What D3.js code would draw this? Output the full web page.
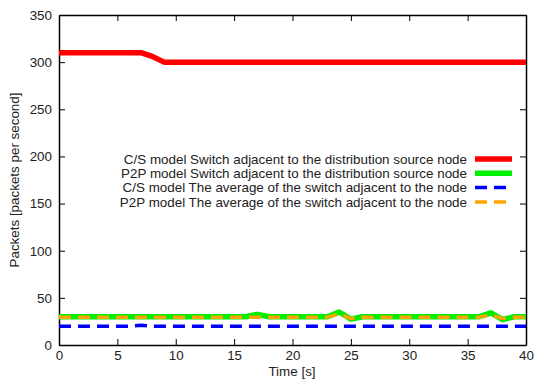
<!DOCTYPE html>
<html>
<head>
<meta charset="utf-8">
<script src="https://cdn.jsdelivr.net/npm/d3@7"></script>
<style>
  body { margin: 0; background: #fff; }
  text { font-family: "Liberation Sans", Arial, sans-serif; fill: #222; }
</style>
</head>
<body>
<div id="chart"></div>
<script>
const time = d3.range(0, 41);
const csSource = [310,310,310,310,310,310,310,310,306,300,300,300,300,300,300,300,300,300,300,300,300,300,300,300,300,300,300,300,300,300,300,300,300,300,300,300,300,300,300,300,300];
const p2pSource = [30,30,30,30,30,30,30,30,30,30,30,30,30,30,30,30,30,32.5,30,30,30,30,30,30,35,27.5,30,30,30,30,30,30,30,30,30,30,30,34,27,30,30];
const csAvg = [20,20,20,20,20,20,20,21,20,20,20,20,20,20,20,20,20,20,20,20,20,20,20,20,20,20,20,20,20,20,20,20,20,20,20,20,20,20,20,20,20];
const p2pAvg = [29.5,29.5,29.5,29.5,29.5,29.5,29.5,29.5,29.5,29.5,29.5,29.5,29.5,29.5,29.5,29.5,29.5,29.5,29.5,29.5,29.5,29.5,29.5,29.5,33,28,29.5,29.5,29.5,29.5,29.5,29.5,29.5,29.5,29.5,29.5,29.5,32,28,29.5,29.5];
const seriesNames = [
  "C/S model Switch adjacent to the distribution source node",
  "P2P model Switch adjacent to the distribution source node",
  "C/S model The average of the switch adjacent to the node",
  "P2P model The average of the switch adjacent to the node"
];
const xTicks = [0,5,10,15,20,25,30,35,40];
const yTicks = [0,50,100,150,200,250,300,350];

const w = 535, h = 379;
const padL = 59, padR = 526, padT = 15, padB = 345;

const svg = d3.select('#chart').append('svg')
  .attr('width', w).attr('height', h);

const x = d3.scaleLinear().domain([0, 40]).range([padL, padR]);
const y = d3.scaleLinear().domain([0, 350]).range([padB, padT]);

// axes with inward ticks on all sides
svg.append('g').attr('transform', `translate(0,${padB})`)
  .call(d3.axisBottom(x).tickValues(xTicks).tickSizeInner(-6).tickSizeOuter(0).tickPadding(5));
svg.append('g').attr('transform', `translate(0,${padT})`)
  .call(d3.axisTop(x).tickValues(xTicks).tickSizeInner(-6).tickSizeOuter(0).tickFormat(''));
svg.append('g').attr('transform', `translate(${padL},0)`)
  .call(d3.axisLeft(y).tickValues(yTicks).tickSizeInner(-6).tickSizeOuter(0).tickPadding(7));
svg.append('g').attr('transform', `translate(${padR},0)`)
  .call(d3.axisRight(y).tickValues(yTicks).tickSizeInner(-6).tickSizeOuter(0).tickFormat(''));

svg.selectAll('.domain').attr('stroke', '#000').attr('stroke-width', 1.5);
svg.selectAll('.tick line').attr('stroke', '#000');
svg.selectAll('.tick text').style('font-size', '13.4px').attr('fill', '#222');

const styles = [
  { data: csSource, color: '#ff0000', width: 5.5, dash: null },
  { data: p2pSource, color: '#00ee00', width: 5.5, dash: null },
  { data: csAvg, color: '#0000ff', width: 3.5, dash: '12,7' },
  { data: p2pAvg, color: '#ffa500', width: 3.5, dash: '12,7' }
];

const line = d3.line().x((d, i) => x(time[i])).y(d => y(d));
styles.forEach(s => {
  svg.append('path')
    .attr('d', line(s.data))
    .attr('fill', 'none')
    .attr('stroke', s.color)
    .attr('stroke-width', s.width)
    .attr('stroke-dasharray', s.dash)
    .attr('stroke-linejoin', 'round');
});

// legend
const lg = svg.append('g');
seriesNames.forEach((name, i) => {
  const ly = 159 + i * 14.3;
  lg.append('text').attr('x', 467).attr('y', ly).attr('dy', '0.35em')
    .attr('text-anchor', 'end').style('font-size', '13.4px').text(name);
  lg.append('line').attr('x1', 475).attr('x2', 512).attr('y1', ly).attr('y2', ly)
    .attr('stroke', styles[i].color).attr('stroke-width', styles[i].width)
    .attr('stroke-dasharray', styles[i].dash);
});

svg.append('text').attr('x', 292).attr('y', 376)
  .attr('text-anchor', 'middle').style('font-size', '13.4px').text('Time [s]');
svg.append('text').attr('transform', `translate(19,${(padT + padB) / 2}) rotate(-90)`)
  .attr('text-anchor', 'middle').style('font-size', '13.4px').text('Packets [packets per second]');
</script>
</body>
</html>
